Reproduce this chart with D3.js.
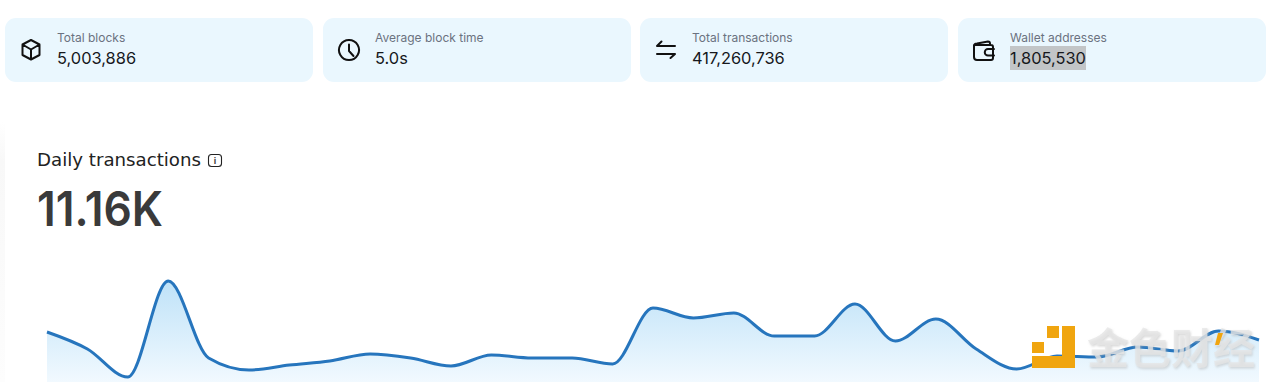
<!DOCTYPE html>
<html>
<head>
  <title>Daily transactions</title>
  <script src="https://cdnjs.cloudflare.com/ajax/libs/d3/7.8.5/d3.min.js"></script>
  <style>
  html, body{
    margin: 0;
    padding: 0;
    background: #fff;
    overflow: hidden;
  }
  svg{
    display: block;
  }
  .card-label{
    font-family: Inter, sans-serif;
    font-size: 12px;
    fill: #6b7280;
  }
  .card-value{
    font-family: Inter, sans-serif;
    font-size: 16.4px;
    fill: #16181c;
  }
  .icon{
    fill: none;
    stroke: #111;
    stroke-width: 2;
    stroke-linecap: round;
    stroke-linejoin: round;
  }
  </style>
</head>
<body>
  <div id='chart'></div>
  <script>
  // stat cards
  var cardLabels = ["Total blocks", "Average block time", "Total transactions", "Wallet addresses"]
  var cardValues = ["5,003,886", "5.0s", "417,260,736", "1,805,530"]
  var cardLefts = [5, 323, 640, 958]
  var cardIcons = [
    "M31 40l8.500 4.500v10.500L31 59.500 22.500 55V44.500zM22.500 44.500L31 49.500l8.500-5M31 49.500v10",
    "M349 40a10 10 0 1 0 .01 0M349 44.500v6.500l4.500 5",
    "M675 46h-18l4.500-4.500M657 54h18l-4.500 4",
    "M974 46.500v10.500a3 3 0 0 0 3 3h14a2 2 0 0 0 2-2v-11a2 2 0 0 0-2-2h-17zM974 46.500a3 3 0 0 1 3-3l11-2a2 2 0 0 1 2 2v1.500M994 49h-6a3 3 0 0 0 0 6.500h6"
  ]

  // daily transactions, in thousands, one point per day
  var dayIndex = d3.range(0, 31)
  var txValues = [12.76, 9.36, 3.76, 22.96, 7.56, 5.16, 6.16, 6.96, 8.36, 7.56, 5.96,
    8.16, 7.56, 7.56, 6.36, 17.56, 15.56, 16.56, 11.96, 11.96, 18.36, 10.96,
    15.36, 9.36, 5.36, 7.96, 7.76, 9.76, 8.96, 12.96, 11.16]

  var width = 1266, height = 382

  var svg = d3.select("#chart").append("svg")
    .attr("width", width)
    .attr("height", height)

  var defs = svg.append("defs")
  var grad = defs.append("linearGradient")
    .attr("id", "areaFill")
    .attr("gradientUnits", "userSpaceOnUse")
    .attr("x1", 0).attr("x2", 0).attr("y1", 281).attr("y2", 390)
  grad.append("stop").attr("offset", "0%").attr("stop-color", "#bfe2f8")
  grad.append("stop").attr("offset", "100%").attr("stop-color", "#f5fbff")

  var edge = defs.append("linearGradient")
    .attr("id", "edgeFade")
    .attr("x1", 0).attr("x2", 0).attr("y1", 0).attr("y2", 1)
  edge.append("stop").attr("offset", "0%").attr("stop-color", "#f8f8f8").attr("stop-opacity", 0)
  edge.append("stop").attr("offset", "15%").attr("stop-color", "#f8f8f8").attr("stop-opacity", 1)
  edge.append("stop").attr("offset", "100%").attr("stop-color", "#fdfdfd").attr("stop-opacity", 1)

  defs.append("filter").attr("id", "markShadow")
    .append("feDropShadow")
    .attr("dx", 1).attr("dy", 1.500)
    .attr("stdDeviation", 1)
    .attr("flood-color", "#b5b5b5")
    .attr("flood-opacity", 0.7)

  // faint left edge of the chart panel
  svg.append("rect")
    .attr("x", 0).attr("y", 122).attr("width", 5).attr("height", 260)
    .attr("fill", "url(#edgeFade)")

  var cards = svg.selectAll(".card")
    .data(cardLabels)
    .enter().append("g")
      .attr("class", "card")

  cards.append("rect")
    .attr("x", function(d, i) { return cardLefts[i] })
    .attr("y", 18)
    .attr("width", 308)
    .attr("height", 64)
    .attr("rx", 11)
    .attr("fill", "#eaf7fe")

  cards.append("path")
    .attr("class", "icon")
    .attr("d", function(d, i) { return cardIcons[i] })

  cards.append("text")
    .attr("class", "card-label")
    .attr("x", function(d, i) { return cardLefts[i] + 52 })
    .attr("y", 42)
    .text(function(d) { return d })

  // selection highlight on the wallet number, under its text
  cards.filter(function(d, i) { return i == 3 }).append("rect")
    .attr("x", 1010).attr("y", 46).attr("width", 76).attr("height", 24)
    .attr("fill", "#c2c5c7")

  cards.append("text")
    .attr("class", "card-value")
    .attr("x", function(d, i) { return cardLefts[i] + 52 })
    .attr("y", 64)
    .text(function(d, i) { return cardValues[i] })

  // heading
  svg.append("text")
    .attr("x", 37).attr("y", 166)
    .attr("font-family", "'DejaVu Sans', sans-serif")
    .attr("font-size", 18)
    .attr("fill", "#222")
    .attr("textLength", 164)
    .attr("lengthAdjust", "spacingAndGlyphs")
    .text("Daily transactions")

  svg.append("rect")
    .attr("x", 208.500).attr("y", 154.500).attr("width", 13).attr("height", 12).attr("rx", 3)
    .attr("fill", "none").attr("stroke", "#222").attr("stroke-width", 1.100)
  svg.append("text")
    .attr("x", 215).attr("y", 164)
    .attr("text-anchor", "middle")
    .attr("font-family", "Inter, sans-serif")
    .attr("font-size", 9)
    .attr("font-weight", 700)
    .attr("fill", "#444")
    .text("i")

  svg.append("text")
    .attr("x", 37).attr("y", 226)
    .attr("font-family", "Inter, sans-serif")
    .attr("font-size", 48)
    .attr("font-weight", 600)
    .attr("fill", "#3a3a3a")
    .attr("textLength", 126)
    .attr("lengthAdjust", "spacingAndGlyphs")
    .text("11.16K")

  // chart
  var x = d3.scaleLinear().domain([0, 30]).range([47, 1259])
  var y = d3.scaleLinear().domain([0, 24]).range([395.8, 275.8])

  var area = d3.area()
    .curve(d3.curveMonotoneX)
    .x(function(d, i) { return x(dayIndex[i]) })
    .y0(y(0))
    .y1(function(d) { return y(d) })

  var line = d3.line()
    .curve(d3.curveMonotoneX)
    .x(function(d, i) { return x(dayIndex[i]) })
    .y(function(d) { return y(d) })

  svg.append("path")
    .attr("d", area(txValues))
    .attr("fill", "url(#areaFill)")

  svg.append("path")
    .attr("d", line(txValues))
    .attr("fill", "none")
    .attr("stroke", "#2675bd")
    .attr("stroke-width", 3)

  // watermark over the chart
  var mark = svg.append("g")
  mark.append("path")
    .attr("d", "M1047 326h12v12h-12zM1062 326h13v42h-43v-12h30zM1032 342h12v11h-12z")
    .attr("fill", "#f0a50f")
  mark.append("text")
    .attr("x", 1087).attr("y", 364)
    .attr("font-family", "'Noto Sans CJK SC', sans-serif")
    .attr("font-size", 42)
    .attr("font-weight", 700)
    .attr("fill", "#e6e6e6")
    .attr("fill-opacity", 0.75)
    .attr("filter", "url(#markShadow)")
    .attr("textLength", 168)
    .text("金色财经")
  mark.append("path")
    .attr("d", "M1218 333h5l-4 12h-4z")
    .attr("fill", "#f0a50f")
  </script>

</body>
</html>
